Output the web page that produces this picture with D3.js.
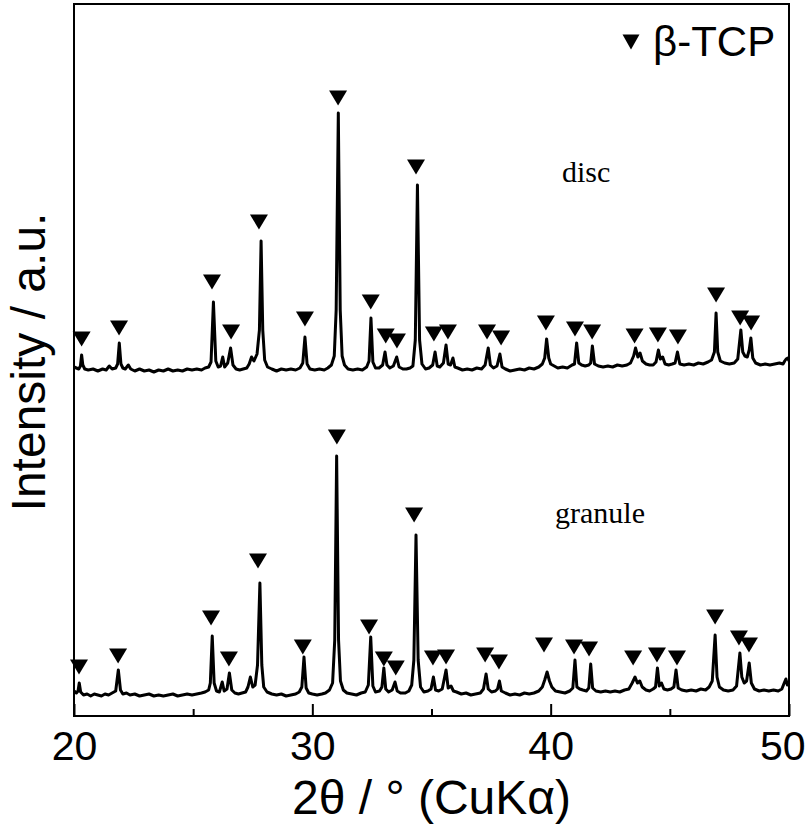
<!DOCTYPE html>
<html>
<head>
<meta charset="utf-8">
<script src="https://cdn.jsdelivr.net/npm/d3@7"></script>
<style>
  html, body { margin: 0; padding: 0; background: #fff; }
  svg { display: block; }
</style>
</head>
<body>
<svg id="chart" width="807" height="824"></svg>
<script>
// ---- Data (2θ in degrees, intensity in a.u. above each pattern's own baseline) ----
const discPattern = [
[20.00,3],[20.10,2],[20.20,1],[20.27,4],[20.32,15],[20.37,5],[20.45,1],[20.60,0],[20.80,1],[21.00,-1],[21.20,1],[21.35,0],[21.48,4],[21.60,1],[21.75,2],[21.83,6],[21.90,27],[21.97,6],[22.05,2],[22.15,1],[22.28,5],[22.38,1],[22.55,-1],[22.75,1],[22.95,-1],[23.15,0],[23.35,-2],[23.55,0],[23.75,-1],[23.95,1],[24.15,-1],[24.35,0],[24.55,-1],[24.75,1],[24.95,0],[25.15,1],[25.35,0],[25.50,2],[25.65,3],[25.75,8],[25.85,68],[25.95,9],[26.05,3],[26.15,4],[26.24,13],[26.32,3],[26.45,7],[26.57,22],[26.67,5],[26.80,1],[26.95,0],[27.10,1],[27.25,2],[27.35,6],[27.45,13],[27.55,9],[27.68,16],[27.78,40],[27.85,129],[27.92,40],[28.00,10],[28.12,3],[28.30,1],[28.50,-1],[28.70,1],[28.90,0],[29.10,1],[29.30,0],[29.48,2],[29.60,7],[29.69,33],[29.78,6],[29.90,1],[30.10,0],[30.30,1],[30.50,0],[30.65,2],[30.80,5],[30.92,14],[31.00,60],[31.09,257],[31.17,60],[31.25,14],[31.35,5],[31.50,1],[31.70,0],[31.90,1],[32.10,0],[32.28,3],[32.38,9],[32.46,52],[32.54,8],[32.65,2],[32.80,2],[32.95,5],[33.05,18],[33.13,5],[33.25,2],[33.40,4],[33.54,13],[33.64,3],[33.80,1],[33.95,1],[34.10,2],[34.22,4],[34.32,30],[34.41,185],[34.50,30],[34.60,6],[34.75,1],[34.90,2],[35.05,5],[35.15,18],[35.24,4],[35.35,3],[35.50,7],[35.61,25],[35.70,6],[35.80,5],[35.90,12],[35.98,3],[36.10,2],[36.30,0],[36.50,1],[36.70,0],[36.90,2],[37.10,1],[37.25,5],[37.38,22],[37.47,5],[37.60,2],[37.75,4],[37.87,16],[37.96,3],[38.10,1],[38.30,-1],[38.50,0],[38.70,1],[38.90,0],[39.10,2],[39.30,1],[39.50,3],[39.65,6],[39.75,12],[39.83,31],[39.92,12],[40.00,6],[40.15,4],[40.30,2],[40.50,3],[40.70,2],[40.90,5],[41.00,6],[41.09,27],[41.18,7],[41.30,5],[41.45,4],[41.60,5],[41.68,7],[41.75,24],[41.84,6],[42.00,4],[42.20,3],[42.40,4],[42.60,3],[42.80,5],[43.00,4],[43.20,5],[43.35,7],[43.48,14],[43.56,22],[43.66,13],[43.75,17],[43.85,9],[44.00,6],[44.15,5],[44.30,5],[44.42,8],[44.52,20],[44.60,11],[44.70,13],[44.80,6],[44.95,5],[45.10,6],[45.22,7],[45.32,18],[45.42,6],[45.60,5],[45.80,6],[46.00,5],[46.20,7],[46.40,6],[46.60,8],[46.75,10],[46.87,18],[46.94,57],[47.01,18],[47.12,9],[47.30,7],[47.50,6],[47.70,7],[47.85,11],[47.98,40],[48.06,18],[48.15,14],[48.25,13],[48.33,20],[48.40,32],[48.48,12],[48.60,7],[48.80,5],[49.00,6],[49.20,5],[49.40,6],[49.60,7],[49.75,6],[49.82,9],[49.88,11],[49.95,12],[50.00,9]
];

const granulePattern = [
[20.00,4],[20.10,2],[20.17,4],[20.22,12],[20.28,3],[20.40,0],[20.55,1],[20.70,-1],[20.85,1],[21.00,0],[21.15,-1],[21.30,1],[21.45,0],[21.60,2],[21.75,4],[21.86,25],[21.95,5],[22.05,1],[22.20,2],[22.35,0],[22.55,1],[22.75,-1],[22.95,0],[23.15,1],[23.35,-1],[23.55,0],[23.75,-1],[23.95,0],[24.15,1],[24.35,-1],[24.55,0],[24.75,1],[24.95,0],[25.15,1],[25.35,2],[25.50,3],[25.65,5],[25.72,12],[25.80,59],[25.88,12],[25.98,4],[26.10,3],[26.22,13],[26.30,4],[26.42,6],[26.52,22],[26.62,5],[26.75,2],[26.90,1],[27.05,2],[27.20,3],[27.30,8],[27.40,18],[27.50,8],[27.60,10],[27.70,30],[27.80,112],[27.88,30],[27.96,8],[28.10,3],[28.30,1],[28.50,0],[28.70,1],[28.90,-1],[29.10,0],[29.30,1],[29.45,3],[29.56,8],[29.65,38],[29.74,7],[29.85,2],[30.00,1],[30.20,0],[30.40,1],[30.55,2],[30.72,5],[30.85,12],[30.94,55],[31.02,239],[31.10,55],[31.18,14],[31.30,5],[31.45,2],[31.65,1],[31.85,0],[32.05,2],[32.22,3],[32.35,10],[32.45,58],[32.54,9],[32.65,3],[32.82,4],[32.92,8],[33.00,27],[33.08,6],[33.20,3],[33.35,5],[33.47,13],[33.56,4],[33.70,2],[33.90,2],[34.05,4],[34.17,10],[34.26,35],[34.35,160],[34.44,35],[34.54,8],[34.68,3],[34.85,4],[34.98,6],[35.08,18],[35.17,5],[35.30,4],[35.45,6],[35.61,25],[35.70,7],[35.82,9],[35.92,4],[36.05,3],[36.25,1],[36.45,2],[36.65,0],[36.85,1],[37.05,2],[37.18,6],[37.29,21],[37.38,6],[37.52,3],[37.68,4],[37.77,6],[37.85,14],[37.93,4],[38.10,2],[38.30,0],[38.50,1],[38.70,0],[38.90,2],[39.10,1],[39.30,2],[39.50,4],[39.65,8],[39.75,15],[39.85,23],[39.95,14],[40.05,8],[40.20,4],[40.40,3],[40.60,2],[40.80,4],[40.93,7],[41.02,35],[41.10,8],[41.22,6],[41.35,5],[41.50,4],[41.60,7],[41.68,31],[41.76,7],[41.90,4],[42.10,3],[42.30,4],[42.50,3],[42.70,4],[42.90,3],[43.10,5],[43.28,6],[43.42,12],[43.54,18],[43.64,12],[43.74,14],[43.84,8],[44.00,5],[44.15,4],[44.30,6],[44.40,8],[44.48,27],[44.56,9],[44.65,12],[44.75,6],[44.90,5],[45.05,6],[45.17,8],[45.26,25],[45.35,7],[45.50,5],[45.70,4],[45.90,5],[46.10,4],[46.30,6],[46.50,5],[46.65,8],[46.78,14],[46.90,60],[46.98,18],[47.08,8],[47.25,5],[47.45,4],[47.65,5],[47.80,9],[47.94,42],[48.02,18],[48.12,12],[48.22,14],[48.33,32],[48.42,12],[48.55,6],[48.75,4],[48.95,5],[49.15,4],[49.35,5],[49.55,4],[49.70,6],[49.80,12],[49.87,16],[49.93,10],[50.00,14]
];

// β-TCP reflection markers: [2θ, marker level (a.u., above pattern baseline)]
const discMarkers = [
[20.32,31],[21.89,42],[25.79,88],[26.59,38],[27.76,148],[29.69,51],[31.08,272],[32.45,68],[33.08,34],[33.55,29],[34.35,203],[35.10,36],[35.69,38],[37.33,38],[37.92,32],[39.80,47],[41.02,41],[41.74,38],[43.52,34],[44.50,35],[45.34,33],[46.94,75],[47.95,52],[48.41,47]
];
const granuleMarkers = [
[20.21,28],[21.85,39],[25.75,77],[26.50,36],[27.72,134],[29.60,48],[31.03,258],[32.38,68],[33.00,36],[33.50,27],[34.27,180],[35.06,37],[35.61,38],[37.25,40],[37.83,33],[39.72,50],[40.98,48],[41.61,46],[43.46,37],[44.46,40],[45.30,37],[46.90,78],[47.90,57],[48.32,50]
];

const xTicks = [20, 25, 30, 35, 40, 45, 50];
const xTickLabels = ["20", "", "30", "", "40", "", "50"];
const seriesNames = ["disc", "granule"];
const legendLabel = "β-TCP";
const xTitle = "2θ / ° (CuKα)";
const yTitle = "Intensity / a.u.";

// ---- Layout ----
const W = 807, H = 824;
const margin = { left: 74, right: 18, top: 4, bottom: 108 };
const iw = W - margin.left - margin.right;
const ih = H - margin.top - margin.bottom;
const discOffset = 346, granuleOffset = 21;   // vertical stacking of the patterns

const svg = d3.select("#chart");
const g = svg.append("g").attr("transform", `translate(${margin.left},${margin.top})`);

const x = d3.scaleLinear().domain([20, 50]).range([0, iw]);
const y = d3.scaleLinear().domain([0, ih]).range([ih, 0]);

const line = offset => d3.line()
  .x(d => x(d[0]))
  .y(d => y(d[1] + offset))
  .curve(d3.curveLinear);

g.append("clipPath").attr("id", "clip")
  .append("rect").attr("x", 0).attr("y", 0).attr("width", iw).attr("height", ih);

const plot = g.append("g").attr("clip-path", "url(#clip)");

plot.append("path").datum(discPattern)
  .attr("fill", "none").attr("stroke", "#000").attr("stroke-width", 3)
  .attr("stroke-linejoin", "round")
  .attr("d", line(discOffset));

plot.append("path").datum(granulePattern)
  .attr("fill", "none").attr("stroke", "#000").attr("stroke-width", 3)
  .attr("stroke-linejoin", "round")
  .attr("d", line(granuleOffset));

const tri = "M-9,-7.5L9,-7.5L0,7.5Z";
function drawMarkers(data, offset) {
  g.append("g").selectAll("path").data(data).join("path")
    .attr("d", tri)
    .attr("fill", "#000")
    .attr("transform", d => `translate(${x(d[0])},${y(d[1] + offset)})`);
}
drawMarkers(discMarkers, discOffset);
drawMarkers(granuleMarkers, granuleOffset);

// Frame
g.append("rect").attr("x", 0).attr("y", 0).attr("width", iw).attr("height", ih)
  .attr("fill", "none").attr("stroke", "#000").attr("stroke-width", 2);

// X axis (ticks inside)
const xAxis = d3.axisBottom(x)
  .tickValues(xTicks)
  .tickFormat((d, i) => xTickLabels[i])
  .tickSize(0);
const ax = g.append("g").attr("transform", `translate(0,${ih})`).call(xAxis);
ax.select(".domain").remove();
ax.selectAll(".tick line").remove();
ax.selectAll(".tick").append("line")
  .attr("y1", 0)
  .attr("y2", (d, i) => xTickLabels[i] ? -12 : -7)
  .attr("stroke", "#000").attr("stroke-width", 2);
ax.selectAll(".tick text")
  .attr("y", 44)
  .attr("dy", 0)
  .attr("font-family", "'Liberation Sans', Arial, sans-serif")
  .attr("font-size", 41)
  .attr("fill", "#000")
  .attr("text-anchor", d => d === 50 ? "end" : "middle")
  .attr("x", d => d === 50 ? 16 : 0);

// Axis titles
svg.append("text")
  .attr("x", margin.left + iw / 2)
  .attr("y", 814)
  .attr("text-anchor", "middle")
  .attr("font-family", "'Liberation Sans', Arial, sans-serif")
  .attr("font-size", 48)
  .attr("fill", "#000")
  .text(xTitle);

svg.append("text")
  .attr("transform", `translate(45,${margin.top + 358}) rotate(-90)`)
  .attr("text-anchor", "middle")
  .attr("font-family", "'Liberation Sans', Arial, sans-serif")
  .attr("font-size", 48)
  .attr("fill", "#000")
  .text(yTitle);

// Series labels
g.append("text")
  .attr("x", 562 - margin.left).attr("y", 182 - margin.top)
  .attr("font-family", "'Liberation Serif', 'Times New Roman', serif")
  .attr("font-size", 30).attr("fill", "#000")
  .text(seriesNames[0]);
g.append("text")
  .attr("x", 555 - margin.left).attr("y", 523 - margin.top)
  .attr("font-family", "'Liberation Serif', 'Times New Roman', serif")
  .attr("font-size", 30).attr("fill", "#000")
  .text(seriesNames[1]);

// Legend
const lg = g.append("g").attr("transform", `translate(${631 - margin.left},${42 - margin.top})`);
lg.append("path").attr("d", "M-8.5,-7.5L8.5,-7.5L0,7.5Z").attr("fill", "#000");
lg.append("text")
  .attr("x", 22).attr("y", 14)
  .attr("font-family", "'Liberation Sans', Arial, sans-serif")
  .attr("font-size", 42).attr("fill", "#000")
  .text(legendLabel);
</script>
</body>
</html>
